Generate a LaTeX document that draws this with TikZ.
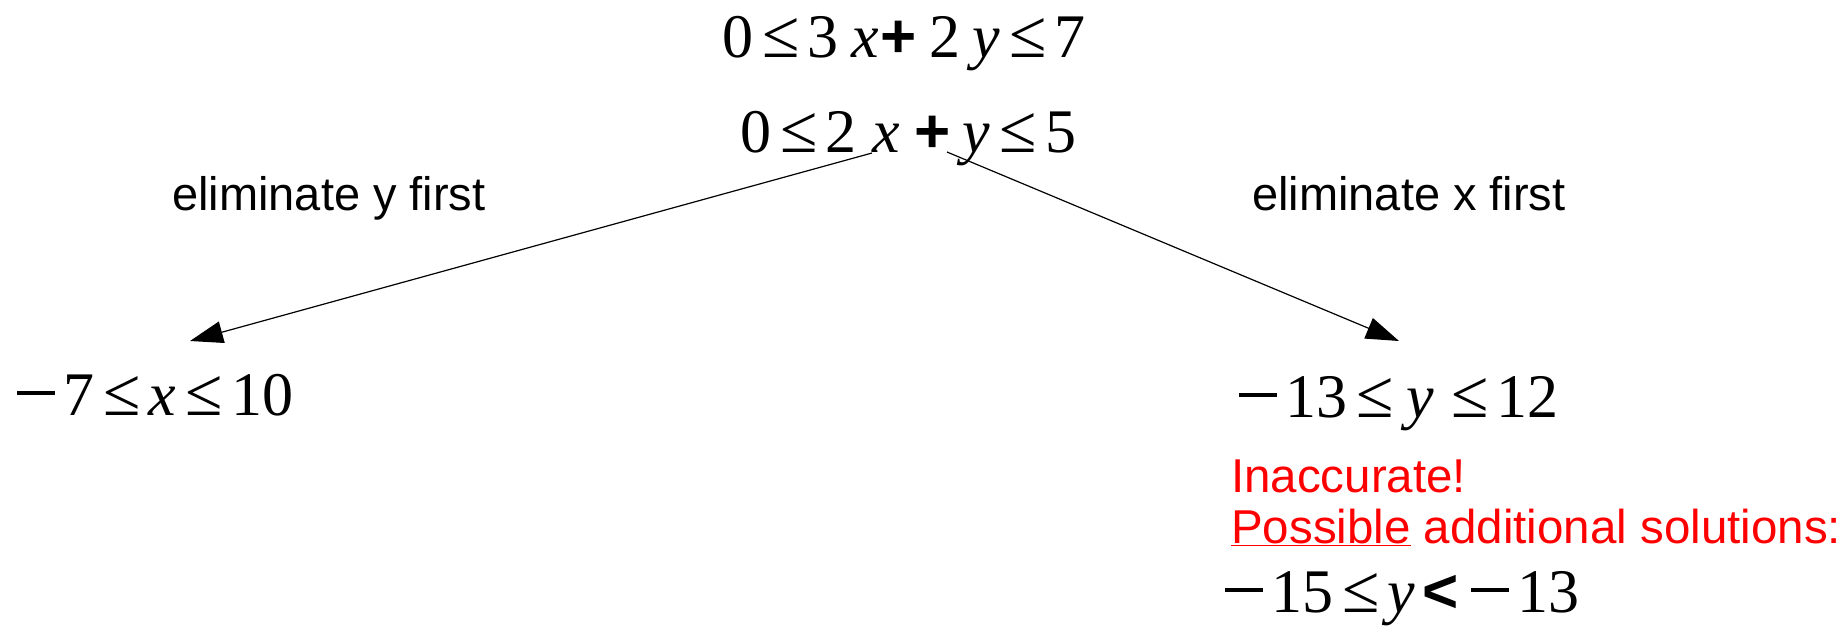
\documentclass[tikz,border=0pt]{standalone}
\usepackage{fontspec}
\setmainfont{Liberation Serif}
\newfontfamily\sansfont{Liberation Sans}
\usetikzlibrary{arrows.meta, positioning}

% Zeichen der Formeln
\newcommand{\lte}{\kern.15em{\fontsize{68}{68}\selectfont≤}\kern.13em}
\newcommand{\ivar}[1]{\textit{#1}}
\newcommand{\pls}{{\sansfont\bfseries\kern.03em+\kern.2em}}
\newcommand{\lss}{{\sansfont\bfseries\kern.12em<\kern.15em}}
\newcommand{\mns}{\kern.05em\rule[.33em]{.6em}{.05em}\kern.14em}

\tikzset{
  formula/.style={font=\fontsize{62}{70}\selectfont, inner sep=0pt, anchor=base west},
  remark/.style={font=\sansfont\fontsize{47}{54}\selectfont, inner sep=0pt, anchor=base west},
  warning/.style={font=\sansfont\fontsize{47.5}{55}\selectfont, text=red, inner sep=0pt, anchor=base west},
  branch/.style={-{Triangle[length=33pt, width=22pt]}, line width=1.2pt}
}

\begin{document}
\begin{tikzpicture}[x=1pt, y=-1pt]
  \useasboundingbox (0,0) rectangle (1848,625);

  % Ausgangssystem
  \node[formula] (sys1) at (722,57) {0\lte3\kern.2em\ivar{x}\pls2\kern.2em\ivar{y}\lte7};
  \node[formula] (sys2) at (740,152) {0\lte2\kern.25em\ivar{x}\kern.2em\pls\ivar{y}\lte5};

  % Ergebnisse
  \node[formula] (resx) at (14,415) {\mns7\lte\ivar{x}\lte10};
  \node[formula] (resy) at (1236,417) {\mns13\lte\kern.08em\ivar{y}\kern.12em\lte12};

  % Beschriftung der Wege
  \node[remark] (elimy) at (172,210) {eliminate y first};
  \node[remark] (elimx) at (1252,210) {eliminate x first};

  % Warnung
  \node[warning] (warn1) at (1231,492) {Inaccurate!};
  \node[warning, below=51pt of warn1.base west, anchor=base west] (warn2)
    {\underline{Possible} additional solutions:};
  \node[formula] (extra) at (1222,612) {\mns15\lte\ivar{y}\lss\mns13};

  % Pfeile
  \coordinate (fromx) at (872,153);
  \coordinate (fromy) at (947,152);
  \coordinate (tox) at (190,341);
  \coordinate (toy) at (1399,341);
  \draw[branch] (fromx) -- (tox);
  \draw[branch] (fromy) -- (toy);
\end{tikzpicture}
\end{document}
